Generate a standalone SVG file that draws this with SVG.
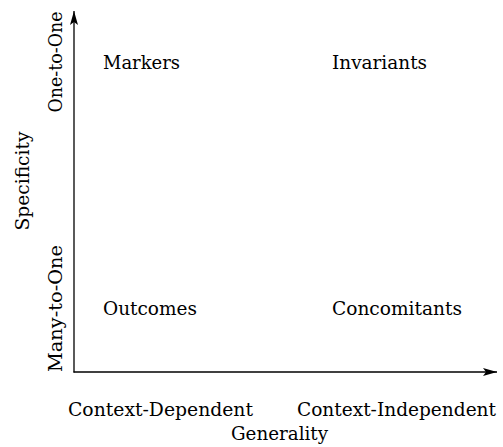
<svg xmlns="http://www.w3.org/2000/svg" width="503" height="447" viewBox="0 0 503 447">
<style>
text{font-family:"DejaVu Serif","Liberation Serif",serif;font-size:18px;fill:#000}
.axis{stroke:#000;stroke-width:1.3;fill:none}
</style>
<defs>
<marker id="arr" viewBox="0 0 10 8" refX="10" refY="4" markerWidth="10" markerHeight="8" markerUnits="userSpaceOnUse" orient="auto">
<path d="M0,0 L10,4 L0,8 L2,4 Z" fill="#000"/>
</marker>
<marker id="arrh" viewBox="0 0 14 8" refX="14" refY="4" markerWidth="14" markerHeight="8" markerUnits="userSpaceOnUse" orient="auto">
<path d="M0,0 L14,4 L0,8 L3,4 Z" fill="#000"/>
</marker>
</defs>
<rect width="503" height="447" fill="#fff"/>
<g id="connectors">
<line class="axis" x1="74" y1="372.5" x2="74" y2="11" marker-end="url(#arrh)"/>
<line class="axis" x1="73.5" y1="372" x2="497" y2="372" marker-end="url(#arrh)"/>
</g>
<g id="markers"><text x="103" y="69" textLength="77" lengthAdjust="spacingAndGlyphs">Markers</text></g>
<g id="invariants"><text x="332" y="69" textLength="95" lengthAdjust="spacingAndGlyphs">Invariants</text></g>
<g id="outcomes"><text x="103" y="315" textLength="94" lengthAdjust="spacingAndGlyphs">Outcomes</text></g>
<g id="concomitants"><text x="332" y="315" textLength="130" lengthAdjust="spacingAndGlyphs">Concomitants</text></g>
<g id="x-labels">
<text x="160.5" y="416" text-anchor="middle" textLength="185" lengthAdjust="spacingAndGlyphs">Context-Dependent</text>
<text x="396.5" y="416" text-anchor="middle" textLength="199" lengthAdjust="spacingAndGlyphs">Context-Independent</text>
<text x="279.5" y="440" text-anchor="middle" textLength="97" lengthAdjust="spacingAndGlyphs">Generality</text>
</g>
<g id="y-labels">
<text transform="translate(62,62) rotate(-90)" text-anchor="middle" textLength="101" lengthAdjust="spacingAndGlyphs">One-to-One</text>
<text transform="translate(62,308.5) rotate(-90)" text-anchor="middle" textLength="127" lengthAdjust="spacingAndGlyphs">Many-to-One</text>
<text transform="translate(29,181) rotate(-90)" text-anchor="middle" textLength="99" lengthAdjust="spacingAndGlyphs">Specificity</text>
</g>
</svg>
